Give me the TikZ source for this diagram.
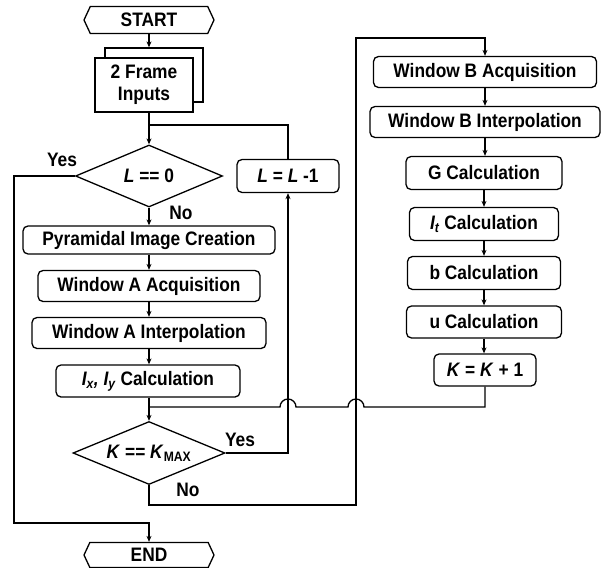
\documentclass[tikz,border=0pt]{standalone}
\usepackage{fontspec}
\setmainfont{Liberation Sans}[FakeStretch=0.89]
\usetikzlibrary{shapes.geometric,shapes.symbols,shadows,arrows.meta}
\begin{document}
\begin{tikzpicture}[x=1pt, y=-1pt, line width=1.3pt,
  every node/.style={font=\fontsize{19.5}{22}\selectfont\bfseries, inner sep=0pt},
  >={Stealth[length=6pt,width=5pt]}
]
\tikzset{
  caixa/.style={draw, rounded corners=5pt, minimum width=#1, minimum height=31pt},
  losango/.style={draw, diamond, aspect=2.4, minimum width=#1, minimum height=62pt},
  terminal/.style={draw, signal, signal to=east and west, signal pointer angle=130,
    minimum width=130pt, minimum height=27pt}
}
\useasboundingbox (0,0) rectangle (606,568);

% coluna da esquerda
\node[terminal] (start) at (149,20) {START};
\node[draw, fill=white, copy shadow={shadow xshift=10pt, shadow yshift=10pt},
  minimum width=98pt, minimum height=54pt, align=center] (frm) at (144,85) {2 Frame\\Inputs};
\node[losango=147pt] (ldec) at (149,176) {\textit{L} == 0};
\node[caixa=102pt, minimum height=33pt] (lsub) at (288,176) {\textit{L} = \textit{L} -1};
\node[caixa=252pt, minimum height=28pt] (pyr) at (149,240) {Pyramidal Image Creation};
\node[caixa=222pt] (waa) at (149,286) {Window A Acquisition};
\node[caixa=234pt] (wai) at (149,333) {Window A Interpolation};
\node[caixa=184pt, minimum height=32pt] (ixy) at (148,381) {\textit{I\textsubscript{x}, I\textsubscript{y}} Calculation};
\node[losango=152pt, minimum height=63pt] (kdec) at (149,453) {\textit{K} == \textit{K}\textsubscript{MAX}};
\node[terminal, minimum height=25pt] (endn) at (149,555) {END};

% coluna da direita
\node[caixa=223pt] (wba) at (485,72) {Window B Acquisition};
\node[caixa=230pt] (wbi) at (485,122) {Window B Interpolation};
\node[caixa=156pt, minimum height=33pt] (gc) at (484,173) {G Calculation};
\node[caixa=149pt, minimum height=33pt] (itc) at (484,224) {\textit{I\textsubscript{t}} Calculation};
\node[caixa=153pt, minimum height=33pt] (bc) at (484,273) {b Calculation};
\node[caixa=155pt, minimum height=32pt] (uc) at (484,322) {u Calculation};
\node[caixa=102pt, minimum height=32pt] (kinc) at (485,370) {\textit{K} = \textit{K} + 1};

% rotulos
\node (y1) at (62,160) {Yes};
\node (n1) at (181,213) {No};
\node (y2) at (240,440) {Yes};
\node (n2) at (188,490) {No};

\coordinate (fbt) at ([yshift=10pt]frm.north);
\coordinate (jl) at (149,125);
\coordinate (jn) at (149,407);
\coordinate (j1) at (288,407);
\coordinate (j2) at (356,407);
\coordinate (c1) at (14,523);
\coordinate (c2) at (356,505);
\coordinate (c3) at (356,38);

\draw[->] (start.south) -- (start.south |- fbt);
\draw[->] (ldec.north |- frm.south) -- (ldec.north);
\draw (lsub.north) |- (jl);
\draw[->] (ldec.south) -- (pyr.north);
\draw[->] (pyr) -- (waa);
\draw[->] (waa) -- (wai);
\draw[->] (wai) -- (ixy.north -| wai.south);
\draw[->] (ixy.south -| kdec.north) -- (kdec.north);
\draw[->] (ldec.west) -| (c1) -| (endn.north);
\draw[->] (kdec.east) -| (lsub.south);
\draw[->] (kdec.south) |- (c2) -- (c3) -| (wba.north);
\draw[->] (wba) -- (wbi);
\draw[->] (wbi) -- (gc.north -| wbi.south);
\draw[->] (gc) -- (itc);
\draw[->] (itc) -- (bc);
\draw[->] (bc) -- (uc);
\draw[->] (uc) -- (kinc.north -| uc.south);
\draw (kinc.south) |- ([xshift=8pt]j2) arc[start angle=0, end angle=180, radius=8pt]
  -- ([xshift=8pt]j1) arc[start angle=0, end angle=180, radius=8pt] -- (jn);
\end{tikzpicture}
\end{document}
